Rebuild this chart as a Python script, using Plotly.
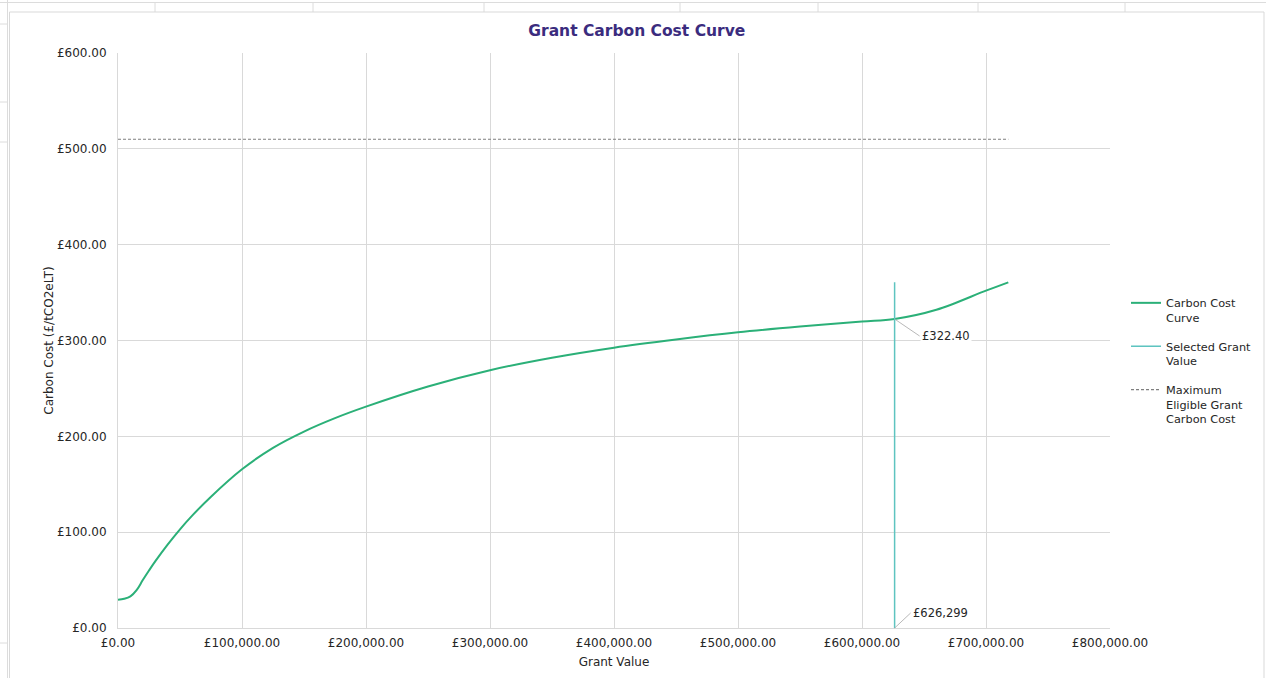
import plotly.graph_objects as go

# Carbon cost curve: grant value (£) vs carbon cost (£/tCO2eLT)
grant_values = [0, 5000, 10000, 15000, 20000, 25000, 30000, 40000, 50000, 60000, 75000,
                100000, 125000, 150000, 175000, 200000, 250000, 300000, 350000,
                400000, 450000, 500000, 550000, 600000, 626299, 660000, 700000, 718000]
carbon_costs = [29.5, 30.5, 33.0, 39.5, 50.0, 60.0, 69.5, 87.0, 103.0, 117.5, 137.0,
                165.6, 188.0, 205.0, 219.0, 231.0, 252.0, 269.0, 282.0,
                292.5, 301.0, 308.5, 314.5, 319.7, 322.4, 332.0, 352.0, 360.7]

selected_grant = 626299
selected_cost = 322.40
max_eligible_cost = 510.0

x_ticks = [0, 100000, 200000, 300000, 400000, 500000, 600000, 700000, 800000]
y_ticks = [0, 100, 200, 300, 400, 500, 600]

FONT = "DejaVu Sans"
GRID = "#d9d9d9"
TEXT = "#262626"


def money(v):
    return "£{:,.2f}".format(v)


fig = go.Figure()

fig.add_trace(go.Scatter(
    x=grant_values, y=carbon_costs, mode="lines",
    name="Carbon Cost<br>Curve", legendgroup="curve",
    line=dict(color="#2bb078", width=2, shape="spline", smoothing=1.0),
    hoverinfo="skip",
))

fig.add_trace(go.Scatter(
    x=[selected_grant, selected_grant], y=[0, max(carbon_costs)], mode="lines",
    name="Selected Grant<br>Value", legendgroup="selected",
    line=dict(color="#5ec4c0", width=1.5),
    hoverinfo="skip",
))

fig.add_trace(go.Scatter(
    x=[0, max(grant_values)], y=[max_eligible_cost, max_eligible_cost], mode="lines",
    name="Maximum<br>Eligible Grant<br>Carbon Cost", legendgroup="maximum",
    line=dict(color="#7f7f7f", width=1.2, dash="3px,2px"),
    hoverinfo="skip",
))

# Data labels with leader lines
fig.add_annotation(
    x=selected_grant, y=selected_cost, xref="x", yref="y",
    text="£{:.2f}".format(selected_cost), showarrow=True, arrowhead=0,
    arrowwidth=0.8, arrowcolor="#a6a6a6", ax=25, ay=17, xanchor="left",
    bgcolor="white", font=dict(family=FONT, size=11.5, color=TEXT),
)
fig.add_annotation(
    x=selected_grant, y=0, xref="x", yref="y",
    text="£{:,}".format(selected_grant), showarrow=True, arrowhead=0,
    arrowwidth=0.8, arrowcolor="#a6a6a6", ax=16, ay=-15, xanchor="left",
    bgcolor="white", font=dict(family=FONT, size=11.5, color=TEXT),
)


# Plot area spans x 118..1110 px and y 53..628 px; helpers map page pixels to paper coords
def px_x(p):
    return (p - 118) / 992.0


def px_y(p):
    return (628 - p) / 575.0


CELL = "#dcdcdc"
shapes = [
    # worksheet cell lines around the chart
    dict(type="line", xref="paper", yref="paper", x0=px_x(0), x1=px_x(1266),
         y0=px_y(2.5), y1=px_y(2.5), line=dict(color=CELL, width=1), layer="below"),
    dict(type="line", xref="paper", yref="paper", x0=px_x(7.5), x1=px_x(7.5),
         y0=px_y(0), y1=px_y(678), line=dict(color=CELL, width=1), layer="below"),
]
for cx in [155, 313, 484, 680, 818, 978, 1125]:
    shapes.append(dict(type="line", xref="paper", yref="paper", x0=px_x(cx), x1=px_x(cx),
                       y0=px_y(2.5), y1=px_y(12), line=dict(color=CELL, width=1), layer="below"))
for ry in [24, 102, 142, 643]:
    shapes.append(dict(type="line", xref="paper", yref="paper", x0=px_x(0), x1=px_x(7.5),
                       y0=px_y(ry), y1=px_y(ry), line=dict(color=CELL, width=1), layer="below"))
# chart area border
shapes.append(dict(type="rect", xref="paper", yref="paper", x0=px_x(9.5), x1=px_x(1264),
                   y0=px_y(12), y1=px_y(690), line=dict(color="#d9d9d9", width=1),
                   fillcolor="rgba(0,0,0,0)", layer="below"))

fig.update_layout(
    width=1266, height=678,
    margin=dict(l=118, r=156, t=53, b=50, autoexpand=False),
    paper_bgcolor="white", plot_bgcolor="white",
    font=dict(family=FONT, size=12, color=TEXT),
    title=dict(text="<b>Grant Carbon Cost Curve</b>", x=0.503, xanchor="center",
               y=1 - 31 / 678, yanchor="middle",
               font=dict(family=FONT, size=15.5, color="#3b2c7e")),
    xaxis=dict(range=[0, 800000], tickvals=x_ticks, ticktext=[money(v) for v in x_ticks],
               showgrid=True, gridcolor=GRID, gridwidth=1, zeroline=False,
               showline=True, linecolor=GRID, linewidth=1, ticks="",
               ticklabelstandoff=4, automargin=False,
               title=dict(text="Grant Value", standoff=8, font=dict(size=12)),
               tickfont=dict(size=12, color=TEXT)),
    yaxis=dict(range=[0, 600], tickvals=y_ticks, ticktext=[money(v) for v in y_ticks],
               showgrid=True, gridcolor=GRID, gridwidth=1, zeroline=False,
               showline=True, linecolor=GRID, linewidth=1, ticks="",
               ticklabelstandoff=8, automargin=False,
               title=dict(text="Carbon Cost (£/tCO2eLT)", standoff=0, font=dict(size=12)),
               tickfont=dict(size=12, color=TEXT)),
    legend=dict(x=px_x(1126), y=px_y(289), xanchor="left", yanchor="top",
                font=dict(family=FONT, size=11.3, color=TEXT),
                itemwidth=30, tracegroupgap=11, valign="top",
                bgcolor="rgba(0,0,0,0)"),
    shapes=shapes,
    showlegend=True,
)

fig.write_html("out.html")
